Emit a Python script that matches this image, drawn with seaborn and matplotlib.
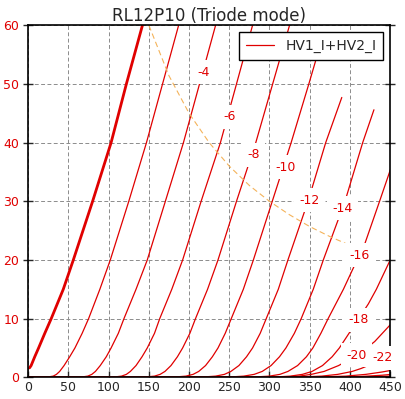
import matplotlib
matplotlib.use("Agg")
import matplotlib.pyplot as plt
import seaborn as sns
import pandas as pd

# ---------------- data ----------------
# plate voltage (V) / plate current (mA) per grid voltage
v_g0 = [1.5, 3.5, 8, 12.8, 20.5, 28.5, 43.5, 56, 80, 103, 122, 142]
i_g0 = [1.6, 2, 3.5, 5, 7.5, 10, 15, 20, 30, 40, 50, 60]

i_std = [0, 0, 0.2, 0.5, 1, 2, 3.5, 5, 7.5, 10, 15, 20, 30, 40, 50, 60]
v_g2 = [0, 22, 31, 35, 39, 44.5, 51.5, 58, 67, 75, 89, 102, 125, 147, 167, 187]
v_g4 = [0, 64, 74, 79, 83.5, 89.5, 97, 103, 112, 119, 134, 148, 170.5, 193, 213, 233]
v_g6 = [0, 104, 116, 122, 127, 134, 141.5, 148, 157, 163.5, 178.5, 192, 215, 239, 259, 279]
v_g8 = [0, 142, 157, 164, 170, 177.5, 185.5, 192, 201, 208, 223, 236, 259, 283, 304, 325]
v_g10 = [0, 178, 196, 205, 212, 220.5, 229, 236, 245, 252.5, 267.5, 280, 303.5, 327, 349, 364]
i_g10 = [0, 0, 0.2, 0.5, 1, 2, 3.5, 5, 7.5, 10, 15, 20, 30, 40, 50, 57]
v_g12 = [0, 212, 233, 244, 252, 262, 271.5, 279, 288.5, 296, 311, 323, 348, 370, 390]
i_g12 = [0, 0, 0.2, 0.5, 1, 2, 3.5, 5, 7.5, 10, 15, 20, 30, 40, 47.7]
v_g14 = [0, 245, 268, 281, 291, 302, 312.5, 320.5, 331, 339.5, 354.5, 367, 394, 416, 430]
i_g14 = [0, 0, 0.2, 0.5, 1, 2, 3.5, 5, 7.5, 10, 15, 20, 30, 40, 45.6]
v_g16 = [0, 275, 300, 313, 323, 335, 346, 354, 364, 373, 392, 409, 418, 437, 452]
i_g16 = [0, 0, 0.2, 0.5, 1, 2, 3.5, 5, 7.5, 10, 15, 20, 22.5, 30, 36]
v_g18 = [0, 300, 326, 341, 353, 366, 378, 387, 399, 411, 423, 433, 452]
i_g18 = [0, 0, 0.2, 0.5, 1, 2, 3.5, 5, 7.5, 10, 12.5, 15, 20.5]
v_g20 = [0, 310, 337, 352, 368, 386, 410, 431, 452]
i_g20 = [0, 0, 0.2, 0.5, 1, 2, 3.8, 6.1, 9.2]
v_g22 = [0, 330, 365, 385, 403, 414, 428, 441, 452]
i_g22 = [0, 0, 0.2, 0.5, 1, 1.5, 2.3, 3.3, 4.5]
v_g24 = [0, 350, 395, 420, 440, 452]
i_g24 = [0, 0, 0.2, 0.5, 0.9, 1.2]
v_g26 = [0, 370, 415, 440, 452]
i_g26 = [0, 0, 0.15, 0.35, 0.5]
v_g28 = [0, 390, 430, 452]
i_g28 = [0, 0, 0.1, 0.2]

# plate dissipation limit (dashed orange)
pd_v = [150, 175, 200, 225, 250, 275, 300, 325, 350, 375, 400, 425]
pd_i = [60, 51.4, 45, 40, 36, 32.7, 30, 27.7, 25.7, 24, 22.5, 21.2]

# curve labels
lab_text = ["-4", "-6", "-8", "-10", "-12", "-14", "-16", "-18", "-20", "-22"]
lab_x = [218, 250, 280, 320, 350, 391, 411.5, 410.5, 408.5, 441]
lab_y = [52.0, 44.4, 37.9, 35.8, 30.2, 28.8, 20.8, 9.8, 3.8, 3.3]

x_ticks = [0, 50, 100, 150, 200, 250, 300, 350, 400, 450]
y_ticks = [0, 10, 20, 30, 40, 50, 60]

title = "RL12P10 (Triode mode)"
legend_label = "HV1_I+HV2_I"

# ---------------- drawing ----------------
RED = "#e00000"
curves = [
    (v_g2, i_std), (v_g4, i_std), (v_g6, i_std), (v_g8, i_std),
    (v_g10, i_g10), (v_g12, i_g12), (v_g14, i_g14), (v_g16, i_g16),
    (v_g18, i_g18), (v_g20, i_g20), (v_g22, i_g22), (v_g24, i_g24),
    (v_g26, i_g26), (v_g28, i_g28),
]

sns.set_style("white")
plt.rcParams["font.family"] = ["DejaVu Sans"]

fig = plt.figure(figsize=(4.05, 3.99), dpi=100)
ax = fig.add_axes([0.0699, 0.0544, 0.8931, 0.8822])

for k, (vv, ii) in enumerate(curves):
    df = pd.DataFrame({"V": vv, "I": ii})
    sns.lineplot(data=df, x="V", y="I", ax=ax, color=RED, lw=0.9,
                 sort=False, estimator=None,
                 label=legend_label if k == 0 else None, legend=False, zorder=2)

df0 = pd.DataFrame({"V": v_g0, "I": i_g0})
sns.lineplot(data=df0, x="V", y="I", ax=ax, color=RED, lw=2.0,
             sort=False, estimator=None, legend=False, zorder=2)

dfp = pd.DataFrame({"V": pd_v, "I": pd_i})
sns.lineplot(data=dfp, x="V", y="I", ax=ax, color="#f4b35a", lw=0.8,
             sort=False, estimator=None, legend=False, zorder=2,
             linestyle=(0, (5, 3)))

for t, x, y in zip(lab_text, lab_x, lab_y):
    ax.text(x, y, t, color=RED, fontsize=9, ha="center", va="center", zorder=4,
            bbox=dict(boxstyle="square,pad=0.45", fc="white", ec="none"))

ax.set_xlim(0, 450)
ax.set_ylim(0, 60)
ax.set_xticks(x_ticks)
ax.set_yticks(y_ticks)
ax.set_xlabel("")
ax.set_ylabel("")
ax.grid(True, color="0.55", ls=(0, (4, 2.5)), lw=0.7)
ax.set_axisbelow(True)
for s in ax.spines.values():
    s.set_color("black")
    s.set_linewidth(1.2)
    s.set_visible(True)
ax.tick_params(axis="both", labelsize=9, direction="in", length=4, width=1,
               top=False, right=True, left=True, bottom=True, pad=3)
ax.tick_params(axis="y", labelcolor=RED)
ax.tick_params(axis="y", which="both", right=True, direction="inout", length=7)
ax.set_title(title, fontsize=12, pad=3)

leg = ax.legend(loc="upper right", fontsize=10, frameon=True, fancybox=False,
                framealpha=1, edgecolor="black", borderaxespad=0.5,
                handlelength=2.0, borderpad=0.5)
leg.get_frame().set_linewidth(1.0)
leg.set_zorder(10)

fig.savefig("out.png", dpi=100)
